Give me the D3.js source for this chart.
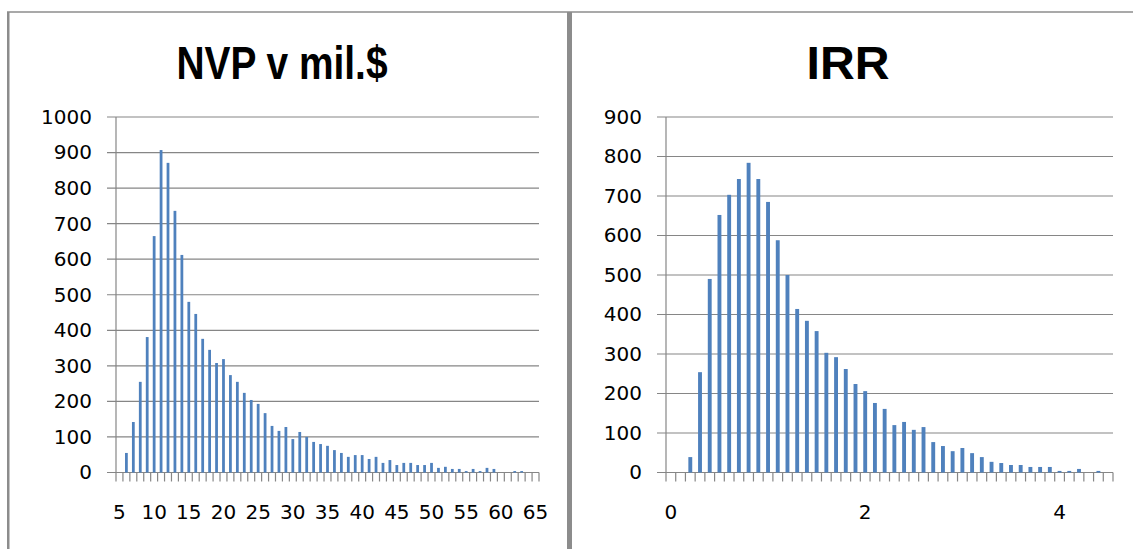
<!DOCTYPE html>
<html>
<head>
<meta charset="utf-8">
<script src="https://cdn.jsdelivr.net/npm/d3@7"></script>
<style>
  html, body { margin: 0; padding: 0; background: #ffffff; }
  svg { display: block; }
  .tick-label { font-family: "DejaVu Sans", Verdana, sans-serif; font-size: 20px; fill: #000; }
  .title { font-family: "Liberation Sans Narrow", "Arial Narrow", "Liberation Sans", sans-serif; font-weight: bold; font-size: 47px; fill: #000; }
</style>
</head>
<body>
<script>
// NVP histogram: bins of 1 mil.$ from 5 to 65
const nvpCategories = ["5","6","7","8","9","10","11","12","13","14","15","16","17","18","19","20",
  "21","22","23","24","25","26","27","28","29","30","31","32","33","34","35","36","37","38","39","40",
  "41","42","43","44","45","46","47","48","49","50","51","52","53","54","55","56","57","58","59","60",
  "61","62","63","64","65"];
const nvpCounts = [0,55,142,255,381,665,907,871,736,612,480,446,376,345,308,319,
  274,255,224,204,193,167,131,117,128,94,114,100,86,80,75,63,55,44,49,49,
  38,44,27,35,21,27,27,21,21,27,13,16,10,10,4,10,4,13,10,0,
  0,4,4,0,0];
const nvpLabelCats = ["5","10","15","20","25","30","35","40","45","50","55","60","65"];
const nvpYTicks = [0,100,200,300,400,500,600,700,800,900,1000];

// IRR histogram: bins of 0.1 from 0.0 to 4.5
const irrCategories = ["0.0","0.1","0.2","0.3","0.4","0.5","0.6","0.7","0.8","0.9",
  "1.0","1.1","1.2","1.3","1.4","1.5","1.6","1.7","1.8","1.9",
  "2.0","2.1","2.2","2.3","2.4","2.5","2.6","2.7","2.8","2.9",
  "3.0","3.1","3.2","3.3","3.4","3.5","3.6","3.7","3.8","3.9",
  "4.0","4.1","4.2","4.3","4.4","4.5"];
const irrCounts = [0,0,39,254,490,652,703,743,784,743,
  685,588,500,414,384,358,303,292,262,224,
  206,176,161,120,128,108,115,77,67,54,
  62,49,39,27,24,19,19,14,14,14,
  4,4,9,0,4,0];
const irrLabelCats = ["0.0","2.0","4.0"];
const irrTickLabels = ["0","2","4"];
const irrYTicks = [0,100,200,300,400,500,600,700,800,900];

const W = 1133, H = 549;
const barColor = "#4f81bd";
const gridColor = "#868686";

const svg = d3.select("body").append("svg").attr("width", W).attr("height", H);
svg.append("rect").attr("width", W).attr("height", H).attr("fill", "#ffffff");

// panel frame
svg.append("line").attr("x1", 7).attr("x2", W).attr("y1", 12).attr("y2", 12)
  .attr("stroke", "#8c8c8c").attr("stroke-width", 1.5);
svg.append("rect").attr("x", 7).attr("y", 12).attr("width", 2.5).attr("height", H - 12).attr("fill", "#8c8c8c");
svg.append("rect").attr("x", 567).attr("y", 12).attr("width", 5).attr("height", H - 12).attr("fill", "#8c8c8c");

function drawChart(cfg) {
  const g = svg.append("g");
  const x = d3.scaleBand().domain(cfg.categories).range([cfg.left, cfg.right]).paddingInner(0).paddingOuter(0);
  const y = d3.scaleLinear().domain([0, cfg.yMax]).range([cfg.bottom, cfg.top]);

  // horizontal gridlines (extend left of the axis as tick marks)
  g.append("g").selectAll("line").data(cfg.yTicks).join("line")
    .attr("x1", cfg.left - 9).attr("x2", cfg.right)
    .attr("y1", d => y(d)).attr("y2", d => y(d))
    .attr("stroke", gridColor).attr("stroke-width", 1.2);

  // value axis labels
  const yAxis = g.append("g").attr("transform", `translate(${cfg.left},0)`)
    .call(d3.axisLeft(y).tickValues(cfg.yTicks).tickSize(0).tickPadding(cfg.yPad).tickFormat(d3.format("d")));
  yAxis.select(".domain").remove();
  yAxis.selectAll("text").attr("class", "tick-label").attr("font-family", null).attr("font-size", null);

  // vertical axis line
  g.append("line").attr("x1", cfg.left).attr("x2", cfg.left).attr("y1", cfg.top).attr("y2", cfg.bottom)
    .attr("stroke", gridColor).attr("stroke-width", 1.2);

  // bars
  const bw = x.bandwidth() / 2.5;
  g.append("g").selectAll("rect").data(cfg.categories.map((c, i) => ({c, v: cfg.values[i]})).filter(d => d.v > 0))
    .join("rect")
    .attr("x", d => x(d.c) + (x.bandwidth() - bw) / 2)
    .attr("width", bw)
    .attr("y", d => y(d.v))
    .attr("height", d => y(0) - y(d.v))
    .attr("fill", barColor);

  // category tick marks at bin boundaries
  const bounds = cfg.categories.map(c => x(c)).concat([cfg.right]);
  g.append("g").selectAll("line").data(bounds).join("line")
    .attr("x1", d => d).attr("x2", d => d)
    .attr("y1", cfg.bottom).attr("y2", cfg.bottom + 9)
    .attr("stroke", gridColor).attr("stroke-width", 1.2);

  // category labels
  const xAxis = g.append("g").attr("transform", `translate(0,${cfg.bottom})`)
    .call(d3.axisBottom(x).tickValues(cfg.labelCats).tickSize(0).tickPadding(32)
      .tickFormat(cfg.labelFormat));
  xAxis.select(".domain").remove();
  xAxis.selectAll("text").attr("class", "tick-label").attr("font-family", null).attr("font-size", null);

  // title
  g.append("text").attr("class", "title")
    .attr("x", cfg.titleX).attr("y", 79).attr("text-anchor", "middle")
    .attr("textLength", cfg.titleLen).attr("lengthAdjust", "spacingAndGlyphs")
    .text(cfg.title);
}

drawChart({
  categories: nvpCategories, values: nvpCounts, labelCats: nvpLabelCats,
  labelFormat: d => d, yTicks: nvpYTicks, yMax: 1000,
  left: 116, right: 539, top: 117, bottom: 472.5, yPad: 24,
  title: "NVP v mil.$", titleX: 282, titleLen: 211
});

drawChart({
  categories: irrCategories, values: irrCounts, labelCats: irrLabelCats,
  labelFormat: d => irrTickLabels[irrLabelCats.indexOf(d)], yTicks: irrYTicks, yMax: 900,
  left: 666, right: 1113, top: 117, bottom: 472.5, yPad: 24,
  title: "IRR", titleX: 848, titleLen: 83
});
</script>
</body>
</html>
